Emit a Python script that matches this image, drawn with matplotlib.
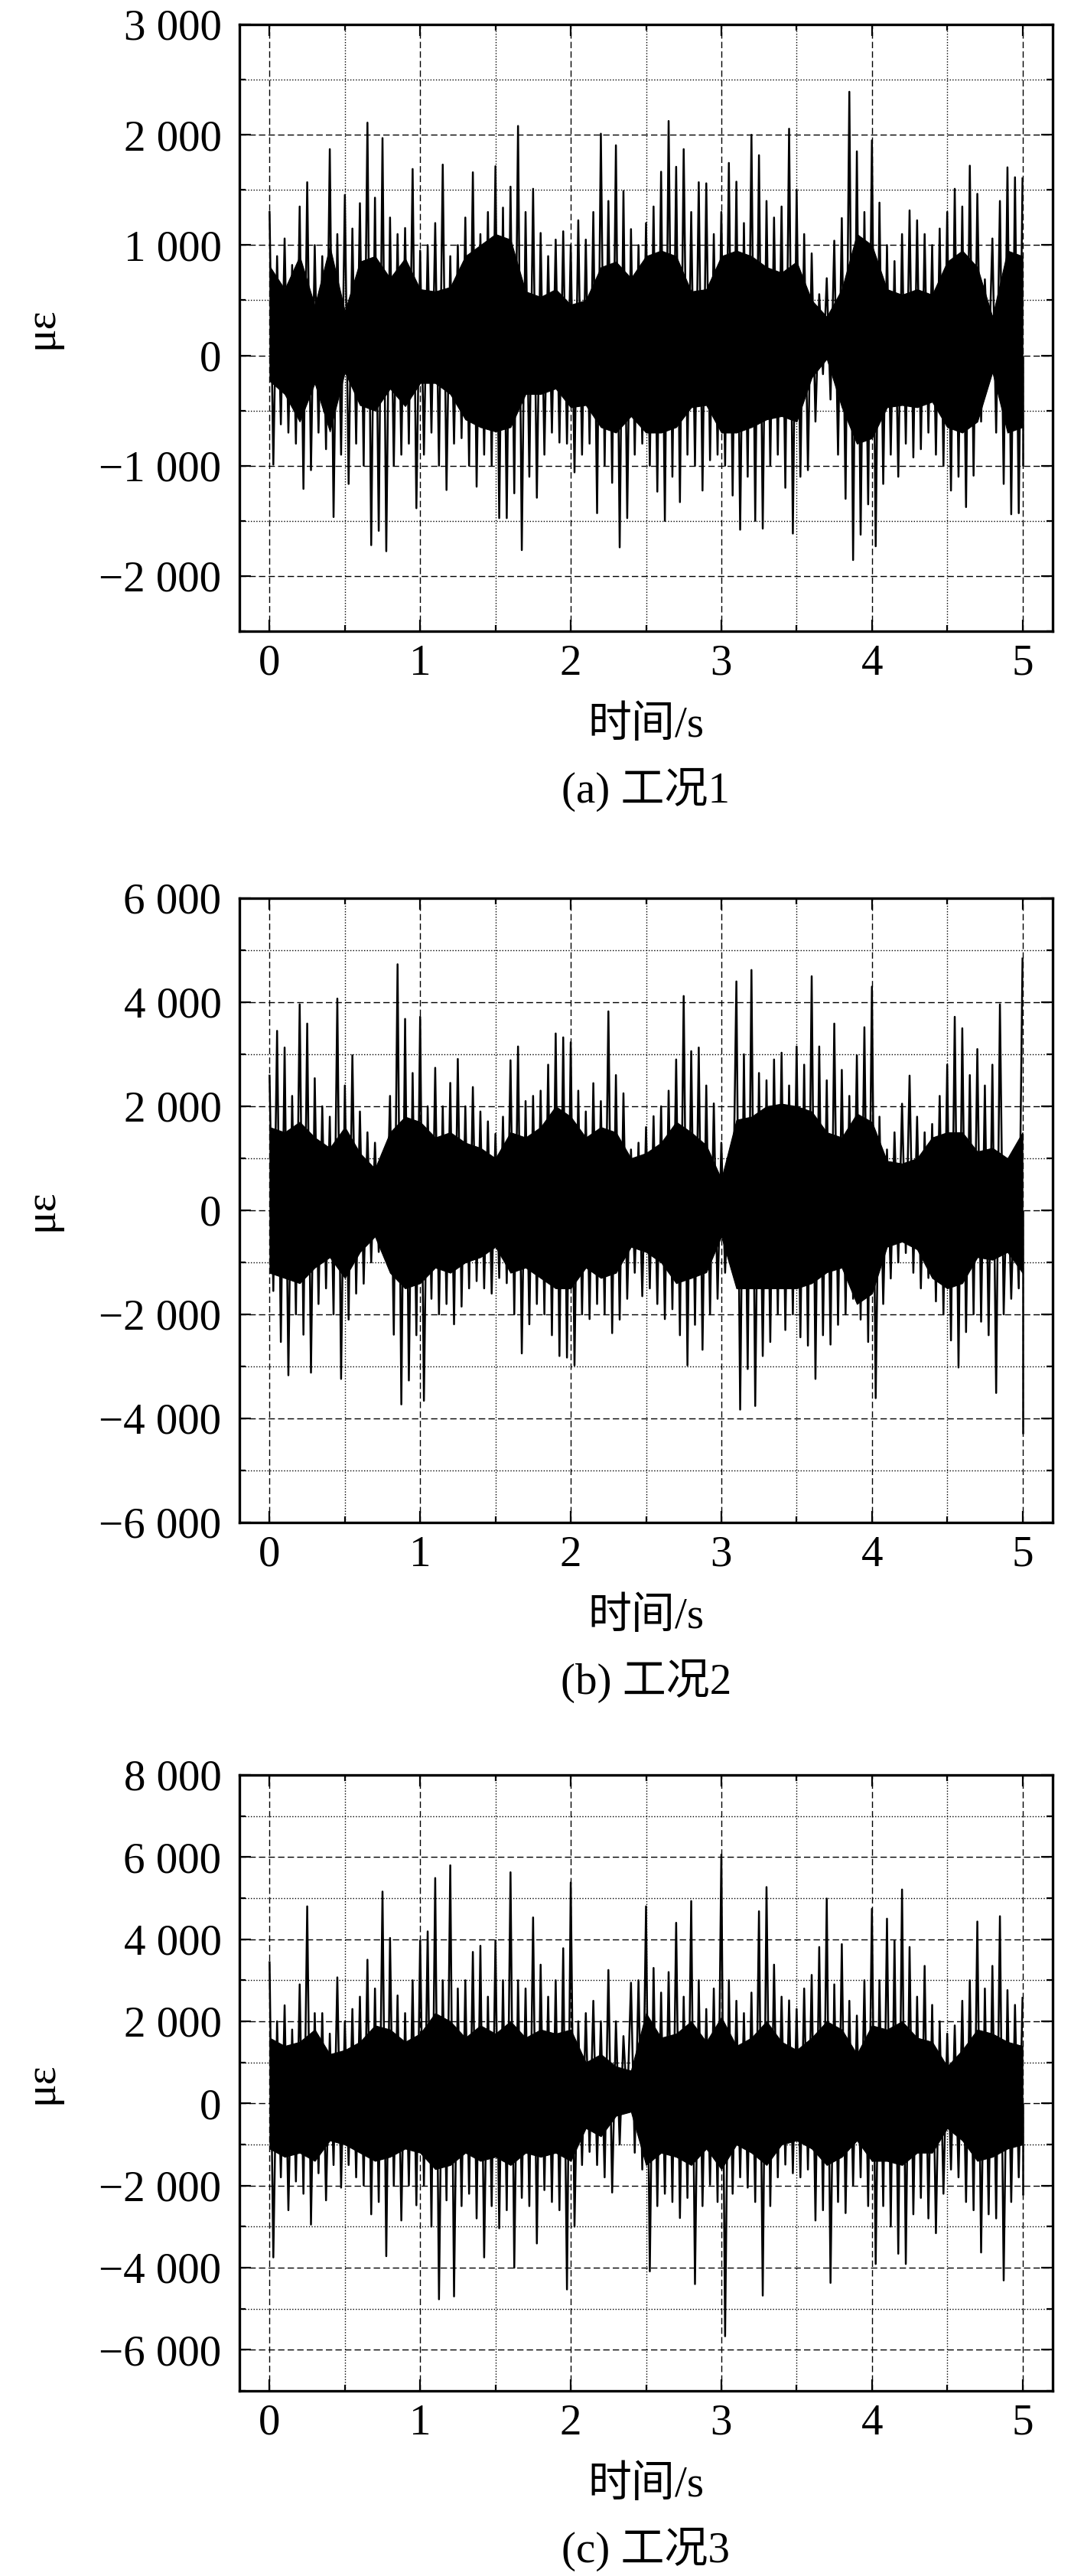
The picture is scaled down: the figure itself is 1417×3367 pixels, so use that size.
import numpy as np
import matplotlib
matplotlib.use("Agg")
import matplotlib.pyplot as plt
from matplotlib.ticker import MultipleLocator, FuncFormatter

plt.rcParams['font.family'] = ['Liberation Serif', 'Noto Sans CJK SC', 'DejaVu Sans']
plt.rcParams['axes.unicode_minus'] = True

# ---------------- data ----------------
t_env = np.linspace(0, 5, 101)      # peak samples every 0.05 s
t_core = np.linspace(0, 5, 51)      # dense-band samples every 0.1 s

# Panel (a) 工况1
p1_hi = [1300, 900, 1060, 820, 1350, 1570, 1000, 900, 1870, 1100,
         1455, 1150, 1380, 2110, 1430, 1970, 1250, 1100, 1155, 1690,
         950, 1000, 1200, 1730, 900, 1000, 1250, 1660, 1100, 1300,
         1715, 1340, 1530, 2080, 1300, 1510, 1110, 900, 1050, 1125,
         1000, 1225, 1050, 1300, 2010, 1400, 1905, 1490, 1145, 1000,
         1200, 1350, 1665, 2125, 1710, 1870, 1300, 1570, 1560, 1100,
         1300, 1745, 1575, 1200, 2000, 1815, 1400, 1250, 1350, 2055,
         1500, 1100, 925, 555, 700, 1040, 1245, 2390, 1850, 1300,
         1950, 1385, 1000, 855, 1100, 1315, 1225, 1100, 1000, 1150,
         1300, 1510, 1350, 1720, 1465, 690, 1060, 1400, 1705, 1615, 1605]
p1_lo = [-990, -625, -700, -800, -1210, -1040, -700, -850, -1465, -900,
         -1165, -800, -1000, -1720, -1590, -1775, -1000, -900, -800, -1385,
         -900, -700, -1000, -1220, -800, -750, -1000, -1190, -900, -1000,
         -1475, -1475, -1250, -1765, -1100, -1290, -900, -700, -790, -800,
         -1060, -900, -800, -1430, -1000, -1155, -1740, -1475, -900, -800,
         -1000, -1235, -1500, -1100, -1330, -900, -1000, -1225, -950, -900,
         -1000, -1270, -1580, -1100, -1500, -1570, -1000, -900, -1200, -1615,
         -1100, -1040, -600, -170, -400, -900, -1300, -1855, -1625, -1350,
         -1730, -1165, -900, -1100, -800, -925, -850, -700, -900, -1000,
         -1225, -1100, -1375, -1090, -600, -120, -700, -1165, -1440, -1430, -1000]
p1_core_hi = [810, 600, 900, 450, 990, 400, 850, 900, 700, 880,
              600, 580, 620, 900, 1000, 1100, 1050, 580, 530, 600,
              460, 500, 800, 850, 700, 900, 950, 900, 580, 600,
              900, 950, 900, 800, 750, 850, 500, 350, 600, 1100,
              1000, 600, 550, 600, 550, 850, 950, 800, 350, 950, 900]
p1_core_lo = [-230, -350, -600, -250, -690, -150, -450, -500, -300, -460,
              -250, -250, -350, -580, -650, -690, -650, -350, -350, -300,
              -470, -450, -650, -700, -550, -700, -700, -650, -470, -450,
              -700, -700, -650, -580, -550, -600, -200, -30, -470, -800,
              -750, -470, -450, -470, -420, -650, -700, -600, -150, -700, -650]

# Panel (b) 工况2
p2_hi = [2590, 3450, 3130, 2200, 3960, 3590, 2540, 2000, 1800, 4070,
         2400, 2980, 1900, 1500, 1300, 1080, 2200, 4730, 3680, 2640,
         3720, 2000, 2740, 2000, 2450, 2910, 2000, 2370, 1900, 1710,
         1470, 1800, 2885, 3150, 2100, 2200, 2300, 2800, 3400, 3325,
         3230, 2300, 1900, 2445, 2100, 3825, 2600, 2250, 1170, 1300,
         1600, 1810, 2000, 2300, 2900, 4120, 3060, 3130, 2400, 2055,
         1300, 700, 4400, 3000, 4620, 2640, 2500, 2900, 3030, 2400,
         3150, 2800, 4500, 3150, 2500, 3590, 2700, 2200, 2980, 3520,
         4300, 1800, 1170, 1500, 2050, 2590, 1800, 1500, 1660, 2200,
         2800, 3720, 3500, 2600, 3100, 2400, 2800, 3960, 980, 780, 4840]
p2_lo = [-1550, -2530, -3170, -2000, -2390, -3120, -1800, -1500, -2000, -3240,
         -2100, -1600, -1410, -1000, -800, -700, -2390, -3730, -3270, -2400,
         -3660, -1700, -2000, -1800, -2190, -1850, -1500, -1360, -1500, -1600,
         -1300, -1400, -2000, -2750, -2190, -1800, -2000, -2400, -2800, -2830,
         -2980, -2000, -2090, -1800, -2000, -2360, -2100, -1700, -1200, -1650,
         -1500, -1800, -2090, -1900, -2400, -2980, -2200, -2680, -2000, -1700,
         -1200, -720, -3830, -3050, -3760, -2800, -2530, -2000, -2300, -2000,
         -2440, -2600, -3240, -2400, -2580, -2200, -2000, -1700, -2100, -2530,
         -3610, -1800, -1310, -1000, -820, -1200, -1500, -1300, -1750, -2000,
         -2500, -3020, -2340, -2000, -2140, -2400, -3510, -2000, -1700, -1500, -4300]
p2_core_hi = [1600, 1500, 1700, 1400, 1200, 1600, 1100, 800, 1500, 1800,
              1700, 1400, 1500, 1300, 1200, 1000, 1500, 1400, 1600, 2000,
              1800, 1400, 1600, 1500, 1000, 1100, 1300, 1700, 1500, 1250,
              600, 1740, 1800, 2000, 2050, 2000, 1900, 1500, 1400, 1860,
              1700, 950, 900, 1000, 1400, 1500, 1500, 1130, 1200, 1000, 1500]
p2_core_lo = [-1200, -1300, -1400, -1100, -900, -1300, -800, -500, -1200, -1500,
              -1400, -1100, -1200, -1000, -900, -700, -1200, -1100, -1300, -1500,
              -1500, -1100, -1300, -1200, -700, -800, -1000, -1400, -1300, -1190,
              -500, -1500, -1500, -1500, -1500, -1500, -1400, -1190, -1100, -1800,
              -1600, -700, -600, -750, -1300, -1500, -1400, -900, -950, -800, -1200]

# Panel (c) 工况3
p3_hi = [3440, 2000, 2390, 1800, 2900, 4800, 2200, 2200, 1700, 3070,
         2000, 2300, 2600, 3500, 2800, 5160, 4030, 2630, 2200, 3000,
         3970, 4190, 5490, 3000, 5800, 2800, 3000, 3690, 3840, 2600,
         3970, 3000, 5630, 3000, 2800, 4530, 3380, 2600, 3000, 3780,
         5380, 2000, 2200, 2500, 2000, 3250, 2000, 1640, 2940, 3000,
         4800, 3300, 2700, 3200, 4400, 2600, 4930, 3000, 2300, 2800,
         6060, 3000, 2500, 2200, 2700, 4680, 5270, 3380, 2600, 2510,
         2300, 2800, 3130, 3810, 4990, 2900, 3880, 2500, 2140, 3000,
         4740, 3000, 4500, 3970, 5210, 3810, 2600, 3350, 2400, 2000,
         1700, 1900, 2500, 3000, 4430, 2800, 3350, 4560, 2760, 2400, 2570]
p3_lo = [-3750, -1800, -2600, -1900, -2200, -2950, -1700, -2360, -1500, -2050,
         -1500, -1800, -2000, -2700, -2400, -3720, -2000, -2850, -2000, -2480,
         -2000, -3000, -4770, -2360, -4700, -2500, -2200, -2800, -3750, -2500,
         -3040, -2600, -4000, -2300, -2500, -3410, -2110, -2400, -2600, -4530,
         -3000, -1500, -1180, -1500, -1800, -2170, -1000, -100, -1200, -1610,
         -4090, -2500, -2200, -2400, -2790, -2300, -4400, -2500, -1980, -2400,
         -5670, -2200, -1800, -2050, -2400, -4680, -2500, -1800, -1490, -1700,
         -1800, -1610, -2850, -2600, -4370, -2400, -2670, -2000, -1800, -2500,
         -3910, -2500, -3000, -3660, -3910, -2700, -2300, -2800, -3160, -2200,
         -1610, -1800, -2400, -2600, -3630, -2700, -2800, -4310, -2400, -1800, -2230]
p3_core_hi = [1600, 1400, 1500, 1800, 1200, 1300, 1500, 1900, 1800, 1500,
              1700, 2200, 2000, 1600, 1900, 1700, 2000, 1600, 1800, 1700,
              1800, 1000, 1200, 900, 800, 2200, 1600, 1700, 2000, 1500,
              2100, 1400, 1600, 2000, 1500, 1300, 1600, 2000, 1800, 1200,
              1900, 1800, 2000, 1600, 1500, 900, 1300, 1800, 1700, 1500, 1400]
p3_core_lo = [-1100, -1300, -1200, -1400, -900, -1000, -1200, -1400, -1300, -1100,
              -1200, -1600, -1500, -1200, -1400, -1300, -1500, -1200, -1300, -1200,
              -1400, -600, -800, -300, -200, -1500, -1200, -1300, -1500, -1100,
              -1600, -1000, -1200, -1500, -1000, -900, -1100, -1500, -1300, -900,
              -1400, -1400, -1500, -1200, -1200, -600, -900, -1400, -1300, -1100, -1000]

y_limits = [(-2500, 3000), (-6000, 6000), (-7000, 8000)]
y_major = [1000, 2000, 2000]
y_minor = [500, 1000, 1000]
captions = ["(a) 工况1", "(b) 工况2", "(c) 工况3"]
x_label = "时间/s"
y_label = "με"

# ---------------- figure ----------------
W, H = 1417, 3367
fig = plt.figure(figsize=(W / 100, H / 100), dpi=100)

# axes boxes in pixels (left, top, right, bottom)
boxes = [(313, 32, 1376, 825), (313, 1174, 1376, 1990), (313, 2320, 1376, 3125)]
panels = [(p1_hi, p1_lo, p1_core_hi, p1_core_lo),
          (p2_hi, p2_lo, p2_core_hi, p2_core_lo),
          (p3_hi, p3_lo, p3_core_hi, p3_core_lo)]

FS = 41
half = (t_env[1] - t_env[0]) / 2


def fmt(v, pos):
    iv = int(round(v))
    s = f"{abs(iv):,}".replace(",", " ")
    return ("\u2212" + s) if iv < 0 else s


for i, (box, (hi, lo, chi, clo)) in enumerate(zip(boxes, panels)):
    l, t, r, b = box
    ax = fig.add_axes([l / W, 1 - b / H, (r - l) / W, (b - t) / H])
    ax.set_axisbelow(True)

    # zig-zag signal through the read peaks and troughs
    tz = np.empty(2 * len(t_env) - 1)
    yz = np.empty(2 * len(t_env) - 1)
    tz[0::2] = t_env
    yz[0::2] = hi
    tz[1::2] = t_env[:-1] + half
    yz[1::2] = lo[:-1]
    ax.fill_between(t_core, clo, chi, color='black', lw=0.8, ec='black', zorder=2)
    ax.plot(tz, yz, color='black', lw=1.8, zorder=3)
    ax.vlines(t_env[-1:], 0, lo[-1:], color='black', lw=1.8, zorder=3)

    ax.set_xlim(-0.2, 5.2)
    ax.set_ylim(*y_limits[i])
    ax.xaxis.set_major_locator(MultipleLocator(1))
    ax.xaxis.set_minor_locator(MultipleLocator(0.5))
    ax.yaxis.set_major_locator(MultipleLocator(y_major[i]))
    ax.yaxis.set_minor_locator(MultipleLocator(y_minor[i]))
    ax.yaxis.set_major_formatter(FuncFormatter(fmt))

    ax.grid(which='major', color='black', lw=1.0, ls=(0, (6, 3)))
    ax.grid(which='minor', color='black', lw=1.0, ls=(0, (1, 1.6)))

    ax.tick_params(which='both', direction='in', top=True, right=True,
                   labelsize=FS, width=1.6)
    ax.tick_params(which='major', length=11)
    ax.tick_params(which='minor', length=6)
    ax.tick_params(axis='x', which='major', pad=12)
    ax.tick_params(axis='y', which='major', pad=17)
    for sp in ax.spines.values():
        sp.set_linewidth(2.4)
        sp.set_zorder(5)

    ax.set_ylabel(y_label, fontsize=FS)
    ax.yaxis.set_label_coords((80 - l) / (r - l), 0.5)

    ax.annotate(x_label, xy=(0.5, 0), xycoords='axes fraction',
                xytext=(0, -124 * 0.72), textcoords='offset points',
                ha='center', va='center', fontsize=FS)
    ax.annotate(captions[i], xy=(0.5, 0), xycoords='axes fraction',
                xytext=(0, -207 * 0.72), textcoords='offset points',
                ha='center', va='center', fontsize=FS)

fig.savefig("out.png", dpi=100)
